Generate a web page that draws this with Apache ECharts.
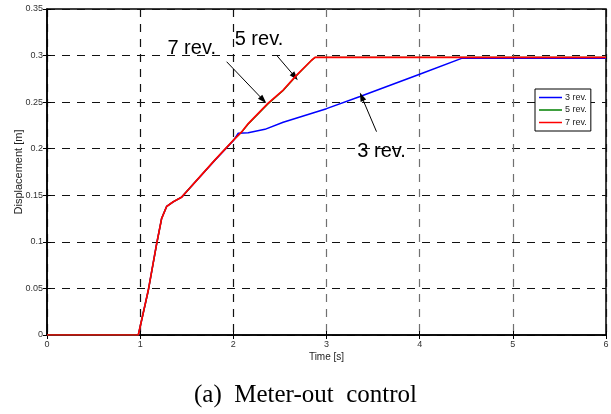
<!DOCTYPE html>
<html>
<head>
<meta charset="utf-8">
<script src="https://cdn.jsdelivr.net/npm/echarts@6/dist/echarts.min.js"></script>
<style>
  html, body { margin: 0; padding: 0; background: #fff; }
  #chart { width: 611px; height: 414px; }
</style>
</head>
<body>
<div id="chart"></div>
<script>
// Time stamps [s] and displacement [m] for each rotation setting
const time3 = [0, 0.98, 1.087, 1.177, 1.23, 1.284, 1.355, 1.445, 1.516, 1.606, 1.803, 1.999, 2.053, 2.16, 2.339, 2.535, 3.0, 3.36, 4.0, 4.45, 6.0];
const disp3 = [0, 0, 0.048, 0.098, 0.125, 0.138, 0.143, 0.148, 0.156, 0.166, 0.1875, 0.2085, 0.2166, 0.2172, 0.2208, 0.2284, 0.243, 0.256, 0.280, 0.297, 0.297];

const time5 = [0, 0.98, 1.087, 1.177, 1.23, 1.284, 1.355, 1.445, 1.516, 1.606, 1.803, 1.999, 2.089, 2.16, 2.374, 2.535, 2.679, 2.84, 2.878, 6.0];
const disp5 = [0, 0, 0.0475, 0.0975, 0.125, 0.138, 0.143, 0.148, 0.156, 0.166, 0.188, 0.209, 0.2178, 0.2265, 0.2482, 0.2625, 0.2785, 0.295, 0.298, 0.298];

const time7 = [0, 0.98, 1.087, 1.177, 1.23, 1.284, 1.355, 1.445, 1.516, 1.606, 1.803, 1.999, 2.089, 2.16, 2.374, 2.535, 2.679, 2.84, 2.876, 6.0];
const disp7 = [0, 0, 0.048, 0.098, 0.125, 0.138, 0.143, 0.148, 0.156, 0.166, 0.188, 0.209, 0.218, 0.227, 0.249, 0.263, 0.279, 0.295, 0.298, 0.298];

const seriesNames = ['3 rev.', '5 rev.', '7 rev.'];
const seriesColors = ['#0000ff', '#008000', '#ff0000'];

const xTicks = [0, 1, 2, 3, 4, 5, 6];

// Callout labels: [text, label centre (t, v), arrow tail (t, v), arrow head (t, v)]
const callouts = [
  ['7 rev.', [1.553, 0.308], [1.928, 0.2934], [2.321, 0.2523]],
  ['5 rev.', [2.275, 0.3178], [2.471, 0.2995], [2.661, 0.2773]],
  ['3 rev.', [3.591, 0.1968], [3.537, 0.2183], [3.377, 0.2559]]
];

const pairs = (xs, ys) => xs.map((x, i) => [x, ys[i]]);

const chart = echarts.init(document.getElementById('chart'), null, { renderer: 'canvas' });

const font = 'Liberation Sans, Arial, sans-serif';
const dash = [8, 7];

// vertical grid lines in the middle of the time range are drawn lighter
const xSplitColors = xTicks.map(t => (t >= 3 && t <= 5) ? '#707070' : '#111');

const option = {
  animation: false,
  backgroundColor: '#fff',
  title: {
    text: '(a)  Meter-out  control',
    left: 'center',
    top: 378,
    textStyle: { fontFamily: 'Liberation Serif, Times New Roman, serif', fontSize: 25, fontWeight: 'normal', color: '#000' }
  },
  grid: {
    left: 47, right: 5, top: 9, bottom: 79,
    containLabel: false,
    outerBoundsMode: 'none',
    show: true, borderColor: '#000', borderWidth: 1.5, backgroundColor: '#fff'
  },
  legend: {
    data: seriesNames,
    orient: 'vertical',
    left: 535, top: 89,
    backgroundColor: '#fff',
    borderColor: '#000', borderWidth: 1, borderRadius: 0,
    padding: [4, 4, 4, 4],
    itemWidth: 23, itemHeight: 10, itemGap: 3.5,
    icon: 'path://M0,4 L23,4 L23,5.5 L0,5.5 Z',
    textStyle: { fontFamily: font, fontSize: 9, color: '#222', padding: [0, 0, 0, -2] }
  },
  xAxis: [{
    type: 'value', min: 0, max: 6, interval: 1,
    name: 'Time [s]', nameLocation: 'middle', nameGap: 17, nameMoveOverlap: false,
    nameTextStyle: { fontFamily: font, fontSize: 10, color: '#222' },
    axisLine: { show: true, lineStyle: { color: '#000', width: 1.5 } },
    axisTick: { show: true, inside: true, length: 4, lineStyle: { color: '#000' } },
    axisLabel: { fontFamily: font, fontSize: 9, color: '#333', margin: 5 },
    splitLine: { show: true, lineStyle: { color: xSplitColors, type: dash, width: 1.2 } }
  }, {
    type: 'value', min: 0, max: 6, interval: 1, position: 'top',
    axisLine: { show: false },
    axisTick: { show: true, inside: true, length: 4, lineStyle: { color: '#000' } },
    axisLabel: { show: false }, splitLine: { show: false }
  }],
  yAxis: [{
    type: 'value', min: 0, max: 0.35, interval: 0.05,
    name: 'Displacement [m]', nameLocation: 'middle', nameGap: 23, nameMoveOverlap: false,
    nameTextStyle: { fontFamily: font, fontSize: 11, color: '#222' },
    axisLine: { show: true, lineStyle: { color: '#000', width: 1.5 } },
    axisTick: { show: true, inside: true, length: 4, lineStyle: { color: '#000' } },
    axisLabel: {
      fontFamily: font, fontSize: 9, color: '#333', margin: 4,
      formatter: v => String(parseFloat(v.toFixed(2)))
    },
    splitLine: { show: true, lineStyle: { color: '#111', type: dash, width: 1 } }
  }, {
    type: 'value', min: 0, max: 0.35, interval: 0.05, position: 'right',
    axisLine: { show: false },
    axisTick: { show: true, inside: true, length: 4, lineStyle: { color: '#000' } },
    axisLabel: { show: false }, splitLine: { show: false }
  }],
  series: [
    {
      name: seriesNames[0], type: 'line', data: pairs(time3, disp3),
      showSymbol: false, color: seriesColors[0], lineStyle: { width: 1.5 }, z: 3
    },
    {
      name: seriesNames[1], type: 'line', data: pairs(time5, disp5),
      showSymbol: false, color: seriesColors[1], lineStyle: { width: 1.3 }, z: 4
    },
    {
      name: seriesNames[2], type: 'line', data: pairs(time7, disp7),
      showSymbol: false, color: seriesColors[2], lineStyle: { width: 1.7 }, z: 5,
      markLine: {
        silent: true,
        symbol: ['none', 'triangle'],
        symbolSize: [6, 9],
        lineStyle: { color: '#000', width: 1, type: 'solid' },
        label: { show: false },
        data: callouts.map(c => [{ coord: c[2] }, { coord: c[3] }])
      },
      markPoint: {
        silent: true,
        symbol: 'circle', symbolSize: 0,
        label: {
          show: true, position: 'inside',
          fontFamily: font, fontSize: 20, color: '#000',
          formatter: p => p.name
        },
        data: callouts.map(c => ({ name: c[0], coord: c[1] }))
      }
    }
  ]
};

chart.setOption(option);
</script>
</body>
</html>
